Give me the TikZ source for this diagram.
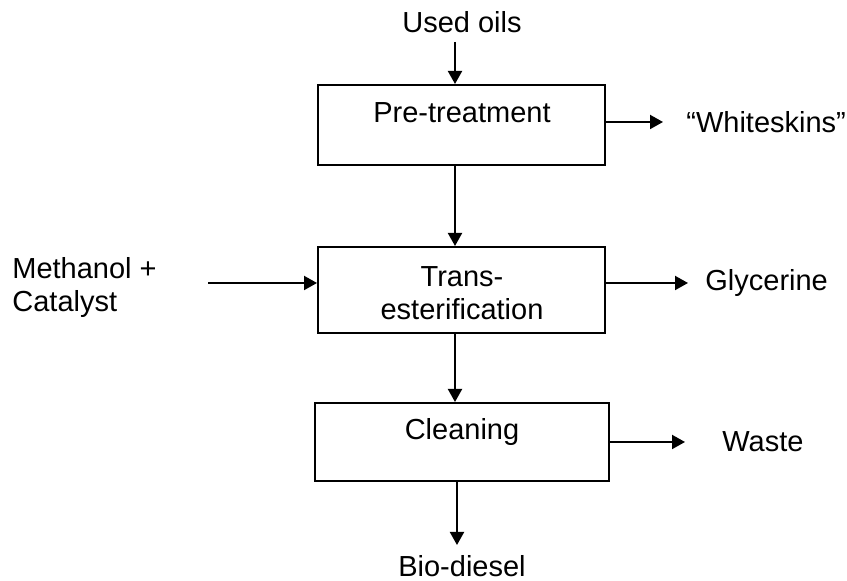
\documentclass[tikz,border=0pt]{standalone}
\usepackage{fontspec}
\setmainfont{Liberation Sans}
\usetikzlibrary{arrows.meta}
\begin{document}
\begin{tikzpicture}[x=0.5pt,y=-0.5pt,
  box/.style={draw,line width=1pt,minimum width=#1*0.5pt,inner sep=0pt},
  txt/.style={inner sep=0pt,font=\fontsize{14.5}{16.5}\selectfont},
  arr/.style={line width=1pt,-{Triangle[length=6.5pt,width=7pt]}}]
\useasboundingbox (0,0) rectangle (847,581);
% boxes
\node[box=287,minimum height=40pt] (pre) at (461.5,125) {};
\node[box=287,minimum height=43pt] (trans) at (461.5,290) {};
\node[box=294,minimum height=39pt] (clean) at (462,442) {};
% texts
\node[txt] (uo) at (462,22) {Used oils};
\node[txt] (pret) at (462,113) {Pre-treatment};
\node[txt,align=center] (transt) at (462,293) {Trans-\\esterification};
\node[txt] (cleant) at (462,432) {Cleaning};
\node[txt] (bio) at (462,566) {Bio-diesel};
\node[txt,anchor=west] (white) at (686,122) {“Whiteskins”};
\node[txt,anchor=west] (gly) at (705,283) {Glycerine};
\node[txt,anchor=west] (waste) at (722,442) {Waste};
\node[txt,anchor=west,align=left] (meth) at (12,288) {Methanol +\\Catalyst};
% coordinates
\coordinate (a1) at (455,42);
\coordinate (a2) at (455,165);
\coordinate (a3) at (455,333);
\coordinate (a4) at (457,481);
\coordinate (a5) at (457,545);
\coordinate (w1) at (605,122);
\coordinate (w2) at (663,122);
\coordinate (g1) at (605,283);
\coordinate (g2) at (688,283);
\coordinate (s1) at (609,442);
\coordinate (s2) at (685,442);
\coordinate (m1) at (208,283);
% connectors
\draw[arr] (a1) -- (a1 |- pre.north);
\draw[arr] (a2) -- (a2 |- trans.north);
\draw[arr] (a3) -- (a3 |- clean.north);
\draw[arr] (a4) -- (a5);
\draw[arr] (w1) -- (w2);
\draw[arr] (g1) -- (g2);
\draw[arr] (s1) -- (s2);
\draw[arr] (m1) -- (m1 -| trans.west);
\end{tikzpicture}
\end{document}
